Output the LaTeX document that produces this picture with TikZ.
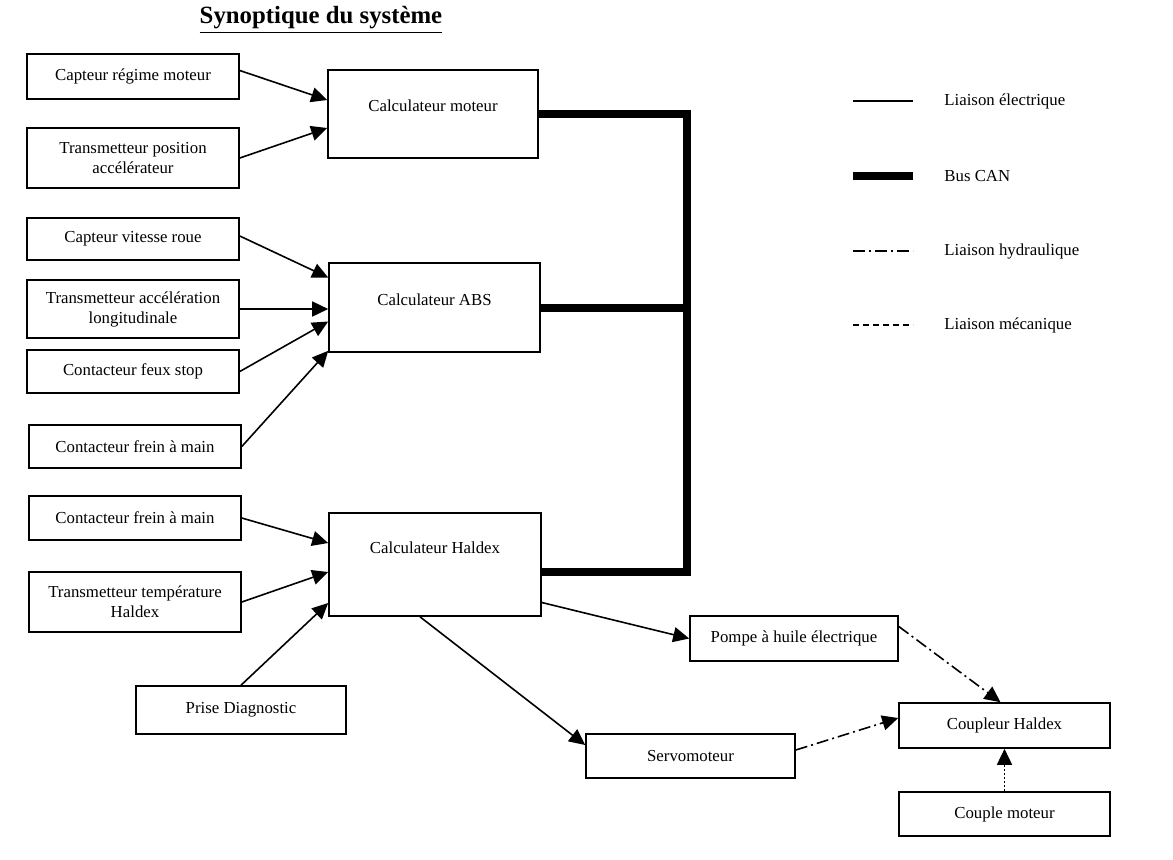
\documentclass[tikz,border=0pt]{standalone}
\usepackage{fontspec}
\setmainfont{Liberation Serif}
\usetikzlibrary{arrows.meta,calc}

\tikzset{
  box/.style={draw, line width=0.8pt, align=center, inner sep=0pt,
    minimum width=106pt, font=\fontsize{8.4}{10}\selectfont},
  calcbox/.style={box, minimum height=#1},
  elec/.style={line width=0.8pt, -{Triangle[length=8pt,width=7.5pt]}},
  hydro/.style={elec, dash pattern=on 6pt off 2pt on 1pt off 2pt},
  meca/.style={elec, dash pattern=on 1pt off 1pt},
  bus/.style={line width=4pt, line join=miter},
  legtext/.style={anchor=west, inner sep=0pt, font=\fontsize{8.4}{10}\selectfont}
}

\begin{document}
\begin{tikzpicture}[x=0.5pt,y=-0.5pt]
    \useasboundingbox (0,0) rectangle (1173,859);

    % title
    \node[font=\fontsize{12.4}{15}\selectfont\bfseries] (title) at (321,20)
      {\underline{Synoptique du système}};

    % sensors
    \node[box, minimum height=22.5pt] (capRegime) at (133,76.5) {Capteur régime moteur};
    \node[box, minimum height=30pt]   (transPos)  at (133,158)  {Transmetteur position\\accélérateur};
    \node[box, minimum height=21pt]   (capVitesse) at (133,239) {Capteur vitesse roue};
    \node[box, minimum height=29pt]   (transAcc)  at (133,309)  {Transmetteur accélération\\longitudinale};
    \node[box, minimum height=21.5pt] (contStop)  at (133,371.5) {Contacteur feux stop};
    \node[box, minimum height=21.5pt] (contFreinA) at (135,446.5) {Contacteur frein à main};
    \node[box, minimum height=22pt]   (contFreinB) at (135,518) {Contacteur frein à main};
    \node[box, minimum height=30pt]   (transTemp) at (135,602)  {Transmetteur température\\Haldex};
    \node[box, minimum width=105pt, minimum height=24pt] (priseDiag) at (241,710) {Prise Diagnostic};

    % calculators
    \node[calcbox=44pt, minimum width=105pt,
      label={[anchor=center, yshift=-18.5pt, font=\fontsize{8.4}{10}\selectfont]north:Calculateur moteur}]
      (calcMot) at (433,114) {};
    \node[calcbox=44.5pt, minimum width=105.5pt,
      label={[anchor=center, yshift=-19pt, font=\fontsize{8.4}{10}\selectfont]north:Calculateur ABS}]
      (calcAbs) at (434.5,307.5) {};
    \node[calcbox=51.5pt,
      label={[anchor=center, yshift=-18pt, font=\fontsize{8.4}{10}\selectfont]north:Calculateur Haldex}]
      (calcHal) at (435,564.5) {};

    % actuators
    \node[box, minimum width=104pt, minimum height=22.5pt] (pompe) at (794,638.5) {Pompe à huile électrique};
    \node[box, minimum width=104.5pt, minimum height=22pt] (servo) at (690.5,756) {Servomoteur};
    \node[box, minimum width=105.5pt, minimum height=22.5pt] (coupleur) at (1004.5,725.5) {Coupleur Haldex};
    \node[box, minimum width=105.5pt, minimum height=22pt] (couple) at (1004.5,814) {Couple moteur};

    % bus CAN
    \coordinate (bus) at (687,0);
    \draw[bus] (calcMot.east) -- (calcMot.east -| bus) |- ([yshift=-3.75pt]calcHal.east);
    \draw[bus] (calcAbs.east) -- (calcAbs.east -| bus);

    % electrical links
    \draw[elec] ([yshift=3pt]capRegime.east) -- ([yshift=7pt]calcMot.west);
    \draw[elec] (transPos.east) -- ([yshift=-7pt]calcMot.west);
    \draw[elec] ([yshift=1.5pt]capVitesse.east) -- ([yshift=15pt]calcAbs.west);
    \draw[elec] (transAcc.east) -- (transAcc.east -| calcAbs.west);
    \draw[elec] (contStop.east) -- ([yshift=-7pt]calcAbs.west);
    \draw[elec] (contFreinA.east) -- ([yshift=1pt]calcAbs.south west);
    \draw[elec] (contFreinB.east) -- ([yshift=10.75pt]calcHal.west);
    \draw[elec] (transTemp.east) -- ([yshift=-3.75pt]calcHal.west);
    \draw[elec] (priseDiag.north) -- ([yshift=-19.25pt]calcHal.west);
    \draw[elec] ([yshift=-19pt]calcHal.east) -- (pompe.west);
    \draw[elec] ([xshift=-7.5pt]calcHal.south) -- ([yshift=5.5pt]servo.west);

    % hydraulic and mechanical links
    \draw[hydro] ([yshift=6pt]pompe.east) -- ([xshift=-2pt]coupleur.north);
    \draw[hydro] ([yshift=3pt]servo.east) -- ([yshift=3.75pt]coupleur.west);
    \draw[meca] (couple.north) -- (coupleur.south);

    % legend
    \coordinate (legA) at (853,101);
    \coordinate (legB) at (853,176);
    \coordinate (legC) at (853,251);
    \coordinate (legD) at (853,325);
    \draw[line width=0.8pt] (legA) -- ++(60,0);
    \draw[line width=4pt] (legB) -- ++(60,0);
    \draw[line width=0.8pt, dash pattern=on 6pt off 2pt on 1pt off 2pt] (legC) -- ++(60,0);
    \draw[line width=0.8pt, dash pattern=on 3pt off 2pt] (legD) -- ++(60,0);
    \node[legtext] (legElec) at (944,101) {Liaison électrique};
    \node[legtext] (legBus)  at (944,176) {Bus CAN};
    \node[legtext] (legHydro) at (944,251) {Liaison hydraulique};
    \node[legtext] (legMeca) at (944,325) {Liaison mécanique};
\end{tikzpicture}
\end{document}
